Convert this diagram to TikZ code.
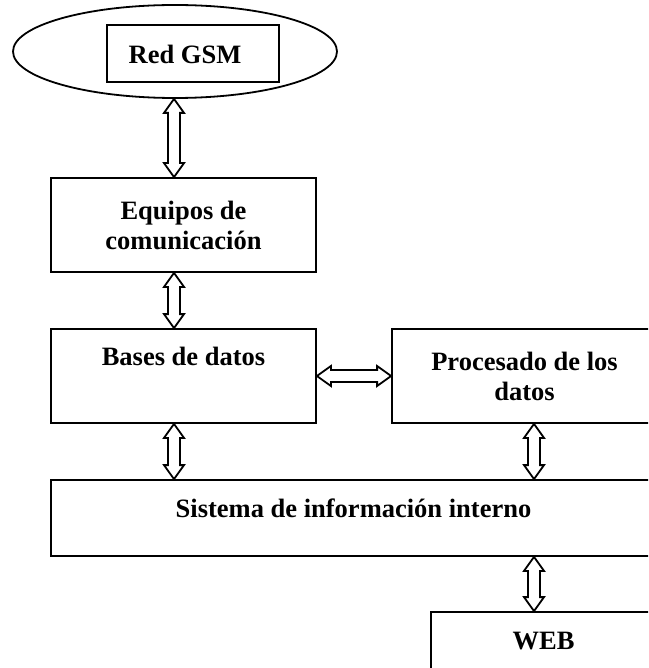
\documentclass[tikz,border=0pt]{standalone}
\usepackage{fontspec}
\setmainfont{Liberation Serif}
\usetikzlibrary{calc,shapes.geometric}
\tikzset{
	box/.style={draw, line width=1.8pt, rectangle, inner sep=0pt, align=center},
	cloud/.style={draw, line width=1.8pt, ellipse, inner sep=0pt},
	lbl/.style={inner sep=0pt, align=center},
	blockarrow/.style={draw, line width=1.8pt, fill=white, line join=miter}
}
\newcommand\dblarrow[2]{\draw[blockarrow] (#1)
	-- ($(#1)!14pt!(#2)!10pt!90:(#2)$) -- ($(#1)!14pt!(#2)!6pt!90:(#2)$)
	-- ($(#2)!14pt!(#1)!6pt!-90:(#1)$) -- ($(#2)!14pt!(#1)!10pt!-90:(#1)$)
	-- (#2)
	-- ($(#2)!14pt!(#1)!10pt!90:(#1)$) -- ($(#2)!14pt!(#1)!6pt!90:(#1)$)
	-- ($(#1)!14pt!(#2)!6pt!-90:(#2)$) -- ($(#1)!14pt!(#2)!10pt!-90:(#2)$)
	-- cycle;}
\begin{document}
\begin{tikzpicture}[x=1pt, y=-1pt, font=\fontsize{26.5}{30}\selectfont\bfseries]
	%%%%% START %%%%%
	\clip (0, 0) rectangle (648, 668);
	\fill[white] (0, 0) rectangle (648, 668);
	
	\node[cloud, minimum width=324pt, minimum height=93pt] (gsmcloud) at (175, 51.5) {};
	\node[box, minimum width=172pt, minimum height=57pt] (gsm) at (193, 53.5) {};
	\node[lbl] (gsmtxt) at (185, 54) {Red GSM};
	
	\node[box, minimum width=265pt, minimum height=94pt] (equipos) at (183.5, 225) {Equipos de\\comunicación};
	
	\node[box, minimum width=265pt, minimum height=94pt] (bases) at (183.5, 376) {};
	\node[lbl] (basestxt) at (183.5, 356) {Bases de datos};
	
	\node[box, minimum width=265pt, minimum height=94pt] (procesado) at (524.5, 376) {Procesado de los\\datos};
	
	\node[box, minimum width=605pt, minimum height=76pt] (sistema) at (353.5, 518) {};
	\node[lbl] (sistematxt) at (353.5, 508) {Sistema de información interno};
	
	\node[box, minimum width=225pt, minimum height=58pt] (web) at (543.5, 641) {WEB};
	
	% arrows
	\coordinate (leftlane) at (174, 0);
	\coordinate (rightlane) at (534, 0);
	\dblarrow{leftlane |- gsmcloud.south}{leftlane |- equipos.north}
	\dblarrow{leftlane |- equipos.south}{leftlane |- bases.north}
	\dblarrow{bases.east}{procesado.west}
	\dblarrow{leftlane |- bases.south}{leftlane |- sistema.north}
	\dblarrow{rightlane |- procesado.south}{rightlane |- sistema.north}
	\dblarrow{rightlane |- sistema.south}{rightlane |- web.north}
	%%%%% END %%%%%
\end{tikzpicture}
\end{document}
